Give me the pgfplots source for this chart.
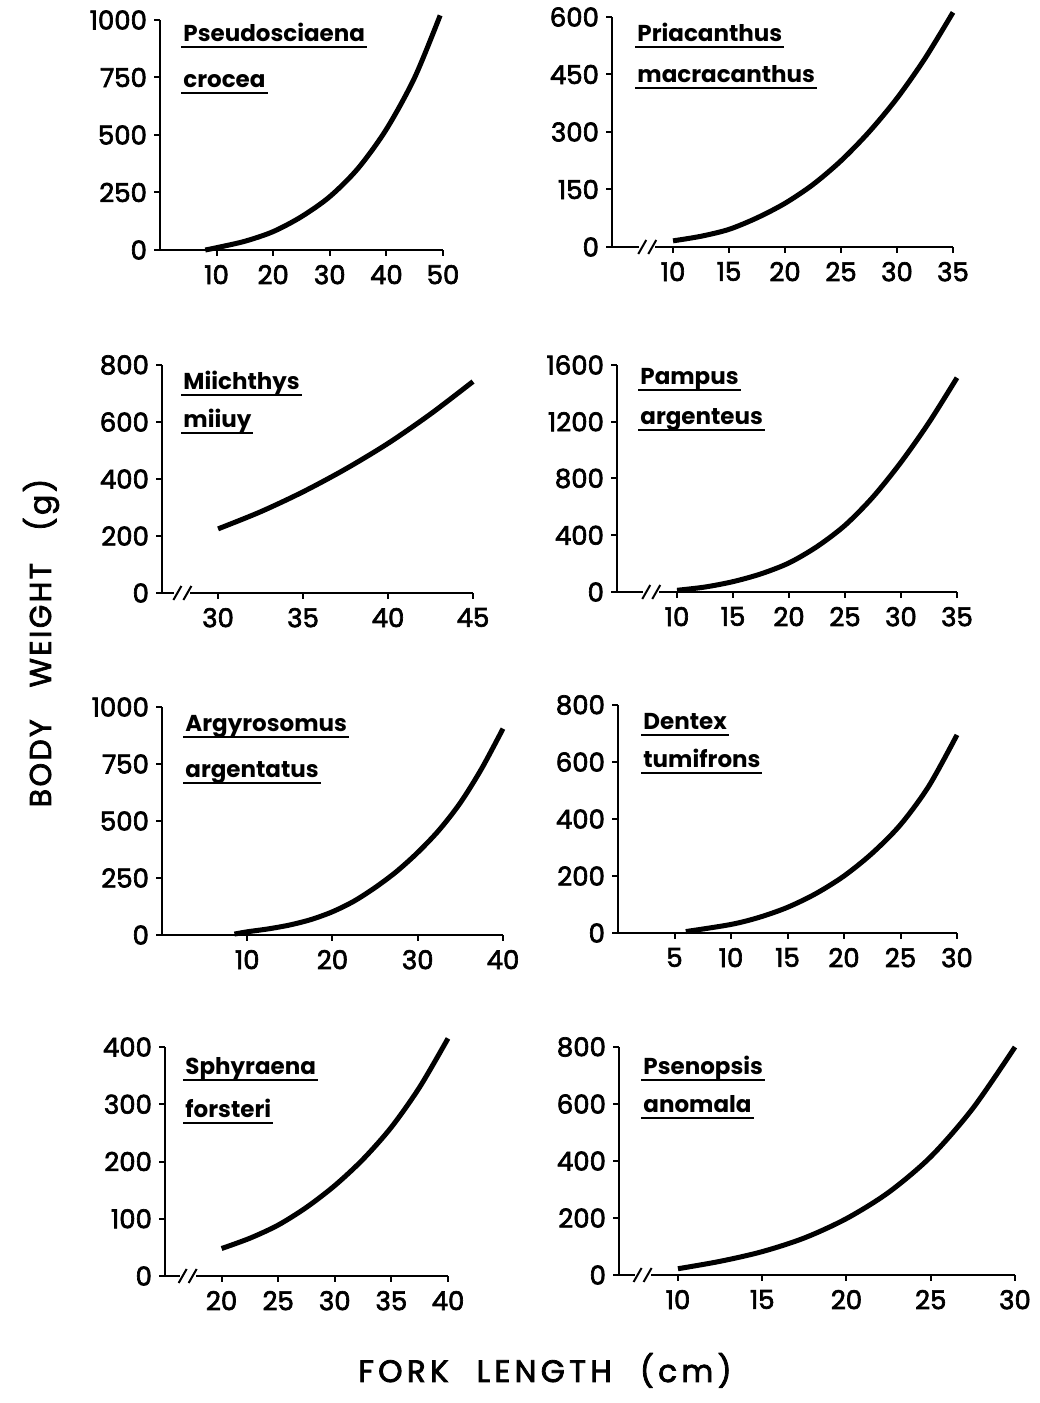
\documentclass[border=0pt]{standalone}
\usepackage{fontspec}
\setmainfont{Poppins}
\newfontfamily\tickfont{Poppins}[FakeBold=2.5]
\newfontfamily\labfont{Poppins}[FakeBold=2.5, LetterSpace=14]
\newfontfamily\ylabfont{Poppins}[FakeBold=2.5, LetterSpace=8]
\usepackage{pgfplots}
\pgfplotsset{compat=1.18}

\newcommand\ul[1]{\setbox0\hbox{#1}\leavevmode\rlap{\kern-1pt\rule[-3pt]{\dimexpr\wd0+2pt\relax}{1.1pt}}\box0}
\newcommand\ticks{\tickfont\fontsize{13}{15}\selectfont}
\newcommand\brk[1]{%
  \draw[white, line width=3pt] ([xshift=-4pt]axis cs:#1,0) -- ([xshift=4pt]axis cs:#1,0);
  \draw[line width=1pt] ([xshift=-4.5pt,yshift=-3.5pt]axis cs:#1,0) -- ([xshift=-0.5pt,yshift=3.5pt]axis cs:#1,0);
  \draw[line width=1pt] ([xshift=0.5pt,yshift=-3.5pt]axis cs:#1,0) -- ([xshift=4.5pt,yshift=3.5pt]axis cs:#1,0);}

\pgfplotsset{
  fish/.style={
    scale only axis, anchor=south west,
    axis x line=bottom, axis y line=left,
    axis line style={line width=1.3pt, -},
    tick style={line width=1pt, black},
    tick align=outside, major tick length=3pt,
    ymin=0, clip=false,
    tick label style={font=\ticks},
    xticklabel style={yshift=-1pt},
    /pgf/number format/1000 sep={},
    /pgf/number format/assume math mode=true,
  },
  curve/.style={black, line width=2.5pt, smooth, no marks},
}

\begin{document}
\begin{tikzpicture}
\useasboundingbox (0,0) rectangle (519.5pt,701.5pt);

% Row 1 left: Pseudosciaena crocea
\begin{axis}[fish, at={(80pt,576.5pt)}, width=141.5pt, height=115pt,
  xmin=0, xmax=50, ymax=1000, xtick={10,20,30,40,50}, ytick={0,250,500,750,1000}]
\addplot[curve] coordinates {(8,0) (10,10) (15,38) (20,80) (25,145) (30,232) (35,355) (40,525) (45,750) (49.5,1020)};
\end{axis}

% Row 1 right: Priacanthus macracanthus
\begin{axis}[fish, at={(306pt,578pt)}, width=170.5pt, height=115pt,
  xmin=4.55, xmax=35, ymax=600, xtick={10,15,20,25,30,35}, ytick={0,150,300,450,600}]
\addplot[curve] coordinates {(10,16) (12.5,28) (15,46) (17.5,76) (20,114) (22.5,163) (25,225) (27.5,300) (30,388) (32.5,492) (35,612)};
\brk{7.7}
\end{axis}

% Row 2 left: Miichthys miiuy
\begin{axis}[fish, at={(81pt,405pt)}, width=155.5pt, height=114pt,
  xmin=26.7, xmax=45, ymax=800, xtick={30,35,40,45}, ytick={0,200,400,600,800}]
\addplot[curve] coordinates {(30,225) (32.5,285) (35,355) (37.5,435) (40,525) (42.5,628) (45,742)};
\brk{27.9}
\end{axis}

% Row 2 right: Pampus argenteus
\begin{axis}[fish, at={(308.5pt,405.5pt)}, width=170pt, height=113.5pt,
  xmin=4.64, xmax=35, ymax=1600, xtick={10,15,20,25,30,35}, ytick={0,400,800,1200,1600}]
\addplot[curve] coordinates {(10,12) (12.5,35) (15,73) (17.5,128) (20,205) (22.5,320) (25,470) (27.5,670) (30,915) (32.5,1195) (35,1510)};
\brk{7.7}
\end{axis}

% Row 3 left: Argyrosomus argentatus
\begin{axis}[fish, at={(81pt,234pt)}, width=170.5pt, height=114pt,
  xmin=0, xmax=40, ymax=1000, xtick={10,20,30,40}, ytick={0,250,500,750,1000}]
\addplot[curve] coordinates {(8.5,4) (10,14) (12.5,27) (15,44) (17.5,68) (20,102) (22.5,148) (25,208) (27.5,278) (30,362) (32.5,460) (35,580) (37.5,730) (40,905)};
\end{axis}

% Row 3 right: Dentex tumifrons
\begin{axis}[fish, at={(309pt,235pt)}, width=169.5pt, height=114pt,
  xmin=0, xmax=30, ymax=800, xtick={5,10,15,20,25,30}, ytick={0,200,400,600,800}]
\addplot[curve] coordinates {(6,5) (10,30) (12.5,55) (15,90) (17.5,138) (20,200) (22.5,280) (25,380) (27.5,515) (30,695)};
\end{axis}

% Row 4 left: Sphyraena forsteri
\begin{axis}[fish, at={(82.5pt,63.5pt)}, width=141.5pt, height=114.5pt,
  xmin=15, xmax=40, ymax=400, xtick={20,25,30,35,40}, ytick={0,100,200,300,400}]
\addplot[curve] coordinates {(20,48) (22.5,66) (25,89) (27.5,120) (30,158) (32.5,204) (35,260) (37.5,330) (40,415)};
\brk{17}
\end{axis}

% Row 4 right: Psenopsis anomala
\begin{axis}[fish, at={(309.5pt,64pt)}, width=198pt, height=114pt,
  xmin=6.5, xmax=30, ymax=800, xtick={10,15,20,25,30}, ytick={0,200,400,600,800}]
\addplot[curve] coordinates {(10,22) (12.5,48) (15,82) (17.5,130) (20,198) (22.5,290) (25,415) (27.5,585) (30,800)};
\brk{7.9}
\end{axis}

% species names
\begin{scope}[every node/.style={anchor=base west, inner sep=0pt, font=\fontsize{11.5}{13}\selectfont\bfseries}]
\node at (91.5pt,680.5pt) {\ul{Pseudosciaena}};
\node at (91.5pt,657.5pt) {\ul{crocea}};
\node at (318.5pt,680.5pt) {\ul{Priacanthus}};
\node at (318.5pt,660pt) {\ul{macracanthus}};
\node at (91.5pt,506.5pt) {\ul{Miichthys}};
\node at (91.5pt,487.5pt) {\ul{miiuy}};
\node at (320pt,509pt) {\ul{Pampus}};
\node at (320pt,489pt) {\ul{argenteus}};
\node at (92.5pt,335.5pt) {\ul{Argyrosomus}};
\node at (92.5pt,312.5pt) {\ul{argentatus}};
\node at (321.5pt,336.5pt) {\ul{Dentex}};
\node at (321.5pt,317.5pt) {\ul{tumifrons}};
\node at (92.5pt,164pt) {\ul{Sphyraena}};
\node at (92.5pt,142.5pt) {\ul{forsteri}};
\node at (321.5pt,164pt) {\ul{Psenopsis}};
\node at (321.5pt,145pt) {\ul{anomala}};
\end{scope}

% axis titles
\node[anchor=base, font=\labfont\fontsize{15.5}{17}\selectfont] at (272.5pt,10.5pt)
  {FORK\hspace{14pt}LENGTH\hspace{14pt}(cm)};
\node[rotate=90, font=\ylabfont\fontsize{15}{17}\selectfont] at (20.5pt,380pt)
  {BODY\hspace{16pt}WEIGHT\hspace{16pt}(g)};
\end{tikzpicture}
\end{document}
